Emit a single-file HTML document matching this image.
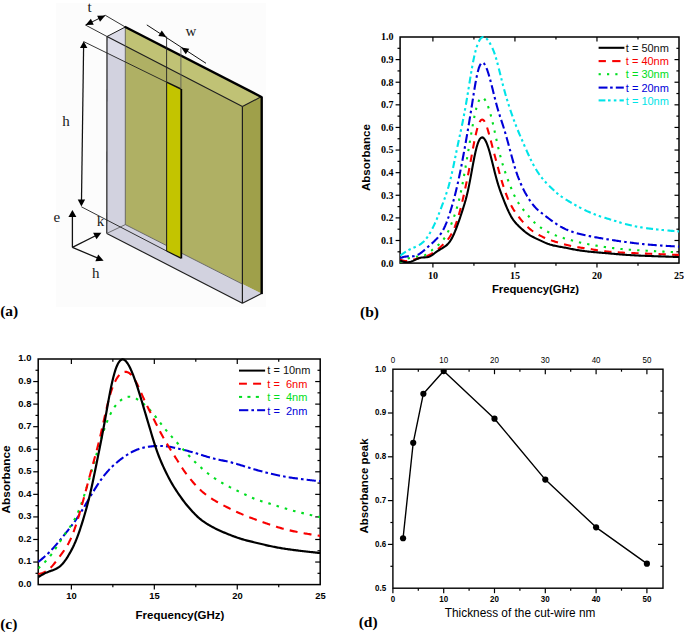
<!DOCTYPE html>
<html><head><meta charset="utf-8"><title>Absorbance figure</title>
<style>html,body{margin:0;padding:0;background:#fff;overflow:hidden}svg{display:block}</style>
</head><body>
<svg width="684" height="633" viewBox="0 0 684 633">
<rect width="684" height="633" fill="#fff"/>
<rect x="56" y="3" width="210" height="304" fill="#fcfcfc"/>
<polygon points="107,36.5 125.3,27 261.5,96.6 261.5,293.6 242.4,303.3 106.8,233.4" fill="#d2d2df" stroke="none" stroke-width="0" />
<polygon points="107,36.5 125.3,27 125.3,45.86" fill="#dcdce8" stroke="none" stroke-width="0" />
<polygon points="107,36.5 125.3,45.97 125.3,62 107,53" fill="#dcdce8" stroke="none" stroke-width="0" />
<polygon points="125.3,27 261.5,96.6 261.5,293.6 125.3,224.6" fill="#afb064" stroke="none" stroke-width="0" />
<polygon points="125.3,27 261.5,96.6 242.4,106.6 125.3,45.86" fill="#c0c275" stroke="none" stroke-width="0" />
<polygon points="242.4,106.6 261.5,96.6 261.5,293.6 242.4,284.09" fill="#9fa04a" stroke="none" stroke-width="0" />
<polygon points="242.4,284.09 261.5,293.6 242.4,303.3" fill="#d2d2df" stroke="none" stroke-width="0" />
<line x1="107" y1="36.5" x2="242.4" y2="106.6" stroke="#1e1e1e" stroke-width="1.15" />
<line x1="107" y1="36.5" x2="106.8" y2="233.4" stroke="#1e1e1e" stroke-width="1.2" />
<line x1="106.8" y1="233.4" x2="242.4" y2="303.3" stroke="#1e1e1e" stroke-width="1.15" />
<line x1="242.4" y1="303.3" x2="261.5" y2="293.6" stroke="#1e1e1e" stroke-width="1.1" />
<line x1="242.4" y1="106.6" x2="242.4" y2="303.3" stroke="#1e1e1e" stroke-width="1.2" />
<line x1="242.4" y1="106.6" x2="261.5" y2="96.6" stroke="#1e1e1e" stroke-width="1.1" />
<line x1="107" y1="36.5" x2="125.3" y2="27" stroke="#1e1e1e" stroke-width="1.0" />
<line x1="125.3" y1="27" x2="125.3" y2="224.6" stroke="#555" stroke-width="0.8" />
<line x1="125.3" y1="224.6" x2="242.4" y2="284.09" stroke="#555" stroke-width="0.8" />
<line x1="106.8" y1="233.4" x2="125.3" y2="224.6" stroke="#555" stroke-width="0.8" />
<line x1="124.8" y1="26.75" x2="261.9" y2="97.2" stroke="#000" stroke-width="2.4" />
<line x1="261.7" y1="96.6" x2="261.7" y2="294.1" stroke="#000" stroke-width="2.4" />
<polygon points="166.6,82.2 180.9,89 180.9,258.2 166.6,251" fill="#c3c400" stroke="none" stroke-width="0" />
<line x1="166.6" y1="82.2" x2="180.9" y2="89" stroke="#111" stroke-width="1.4" />
<line x1="166.6" y1="82.2" x2="166.6" y2="251" stroke="#222" stroke-width="1.1" />
<line x1="181.3" y1="89" x2="181.3" y2="258.5" stroke="#000" stroke-width="1.8" />
<line x1="166.6" y1="251" x2="180.9" y2="258.2" stroke="#111" stroke-width="1.3" />
<line x1="83.7" y1="41.6" x2="166.6" y2="82.2" stroke="#1e1e1e" stroke-width="0.9" />
<line x1="81.4" y1="206.8" x2="166.6" y2="251" stroke="#1e1e1e" stroke-width="0.9" />
<line x1="83.6" y1="47" x2="81.5" y2="200.5" stroke="#111" stroke-width="1.25" />
<polygon points="83.7,41.2 87.36,48.02 79.96,47.98" fill="#000" stroke="none" stroke-width="0" />
<polygon points="81.4,206.4 77.74,199.58 85.14,199.62" fill="#000" stroke="none" stroke-width="0" />
<line x1="85.6" y1="25.1" x2="107" y2="36.5" stroke="#1e1e1e" stroke-width="0.9" />
<line x1="105.3" y1="15.3" x2="125.3" y2="27" stroke="#1e1e1e" stroke-width="0.9" />
<line x1="85.6" y1="25.1" x2="105.3" y2="15.4" stroke="#111" stroke-width="1.0" />
<polygon points="85.6,25.1 90.89,18.87 93.76,24.7" fill="#000" stroke="none" stroke-width="0" />
<polygon points="105.3,15.4 100.01,21.63 97.14,15.8" fill="#000" stroke="none" stroke-width="0" />
<line x1="166.6" y1="36.5" x2="166.6" y2="82.2" stroke="#222" stroke-width="0.9" />
<line x1="180.9" y1="47.5" x2="180.9" y2="89" stroke="#555" stroke-width="0.8" />
<line x1="146.8" y1="24.9" x2="206" y2="63.3" stroke="#111" stroke-width="1.0" />
<polygon points="166.4,37.1 158.32,35.9 161.75,30.38" fill="#000" stroke="none" stroke-width="0" />
<polygon points="181.2,47.6 189.28,48.87 185.8,54.36" fill="#000" stroke="none" stroke-width="0" />
<line x1="72.4" y1="247.4" x2="72.4" y2="215" stroke="#111" stroke-width="1.3" />
<polygon points="72.4,210 76.4,217 68.4,217" fill="#000" stroke="none" stroke-width="0" />
<line x1="72.4" y1="247.4" x2="96.5" y2="235.3" stroke="#111" stroke-width="1.25" />
<polygon points="101.4,232.7 96.47,239.35 93.13,232.75" fill="#000" stroke="none" stroke-width="0" />
<line x1="72.4" y1="247.4" x2="98.5" y2="258.4" stroke="#111" stroke-width="1.25" />
<polygon points="103.6,260.7 95.34,261.2 98.24,254.39" fill="#000" stroke="none" stroke-width="0" />
<text x="89.6" y="11.6" font-family="'Liberation Serif', serif" font-size="15" font-weight="normal" text-anchor="middle" fill="#1a1a1a" >t</text>
<text x="190.8" y="35.6" font-family="'Liberation Serif', serif" font-size="15" font-weight="normal" text-anchor="middle" fill="#1a1a1a" >w</text>
<text x="65.9" y="125.9" font-family="'Liberation Serif', serif" font-size="15" font-weight="normal" text-anchor="middle" fill="#1a1a1a" >h</text>
<text x="56.9" y="221.8" font-family="'Liberation Serif', serif" font-size="15" font-weight="normal" text-anchor="middle" fill="#1a1a1a" >e</text>
<text x="100.4" y="226.3" font-family="'Liberation Serif', serif" font-size="15" font-weight="normal" text-anchor="middle" fill="#1a1a1a" >k</text>
<text x="95.8" y="278.3" font-family="'Liberation Serif', serif" font-size="15" font-weight="normal" text-anchor="middle" fill="#1a1a1a" >h</text>
<text x="0.2" y="315.6" font-family="'Liberation Serif', serif" font-size="15.5" font-weight="bold" text-anchor="start" fill="#000" >(a)</text>
<rect x="400.1" y="37" width="278.9" height="226.1" fill="none" stroke="#000" stroke-width="1.5"/>
<line x1="432.91" y1="263.1" x2="432.91" y2="267.6" stroke="#000" stroke-width="1.2" />
<line x1="432.91" y1="37" x2="432.91" y2="41.5" stroke="#000" stroke-width="1.2" />
<line x1="514.94" y1="263.1" x2="514.94" y2="267.6" stroke="#000" stroke-width="1.2" />
<line x1="514.94" y1="37" x2="514.94" y2="41.5" stroke="#000" stroke-width="1.2" />
<line x1="596.97" y1="263.1" x2="596.97" y2="267.6" stroke="#000" stroke-width="1.2" />
<line x1="596.97" y1="37" x2="596.97" y2="41.5" stroke="#000" stroke-width="1.2" />
<line x1="473.93" y1="263.1" x2="473.93" y2="265.7" stroke="#000" stroke-width="1.2" />
<line x1="473.93" y1="37" x2="473.93" y2="39.6" stroke="#000" stroke-width="1.2" />
<line x1="555.96" y1="263.1" x2="555.96" y2="265.7" stroke="#000" stroke-width="1.2" />
<line x1="555.96" y1="37" x2="555.96" y2="39.6" stroke="#000" stroke-width="1.2" />
<line x1="637.99" y1="263.1" x2="637.99" y2="265.7" stroke="#000" stroke-width="1.2" />
<line x1="637.99" y1="37" x2="637.99" y2="39.6" stroke="#000" stroke-width="1.2" />
<line x1="400.1" y1="240.49" x2="395.6" y2="240.49" stroke="#000" stroke-width="1.2" />
<line x1="679" y1="240.49" x2="674.5" y2="240.49" stroke="#000" stroke-width="1.2" />
<line x1="400.1" y1="217.88" x2="395.6" y2="217.88" stroke="#000" stroke-width="1.2" />
<line x1="679" y1="217.88" x2="674.5" y2="217.88" stroke="#000" stroke-width="1.2" />
<line x1="400.1" y1="195.27" x2="395.6" y2="195.27" stroke="#000" stroke-width="1.2" />
<line x1="679" y1="195.27" x2="674.5" y2="195.27" stroke="#000" stroke-width="1.2" />
<line x1="400.1" y1="172.66" x2="395.6" y2="172.66" stroke="#000" stroke-width="1.2" />
<line x1="679" y1="172.66" x2="674.5" y2="172.66" stroke="#000" stroke-width="1.2" />
<line x1="400.1" y1="150.05" x2="395.6" y2="150.05" stroke="#000" stroke-width="1.2" />
<line x1="679" y1="150.05" x2="674.5" y2="150.05" stroke="#000" stroke-width="1.2" />
<line x1="400.1" y1="127.44" x2="395.6" y2="127.44" stroke="#000" stroke-width="1.2" />
<line x1="679" y1="127.44" x2="674.5" y2="127.44" stroke="#000" stroke-width="1.2" />
<line x1="400.1" y1="104.83" x2="395.6" y2="104.83" stroke="#000" stroke-width="1.2" />
<line x1="679" y1="104.83" x2="674.5" y2="104.83" stroke="#000" stroke-width="1.2" />
<line x1="400.1" y1="82.22" x2="395.6" y2="82.22" stroke="#000" stroke-width="1.2" />
<line x1="679" y1="82.22" x2="674.5" y2="82.22" stroke="#000" stroke-width="1.2" />
<line x1="400.1" y1="59.61" x2="395.6" y2="59.61" stroke="#000" stroke-width="1.2" />
<line x1="679" y1="59.61" x2="674.5" y2="59.61" stroke="#000" stroke-width="1.2" />
<line x1="400.1" y1="251.8" x2="397.5" y2="251.8" stroke="#000" stroke-width="1.2" />
<line x1="679" y1="251.8" x2="676.4" y2="251.8" stroke="#000" stroke-width="1.2" />
<line x1="400.1" y1="229.19" x2="397.5" y2="229.19" stroke="#000" stroke-width="1.2" />
<line x1="679" y1="229.19" x2="676.4" y2="229.19" stroke="#000" stroke-width="1.2" />
<line x1="400.1" y1="206.58" x2="397.5" y2="206.58" stroke="#000" stroke-width="1.2" />
<line x1="679" y1="206.58" x2="676.4" y2="206.58" stroke="#000" stroke-width="1.2" />
<line x1="400.1" y1="183.97" x2="397.5" y2="183.97" stroke="#000" stroke-width="1.2" />
<line x1="679" y1="183.97" x2="676.4" y2="183.97" stroke="#000" stroke-width="1.2" />
<line x1="400.1" y1="161.36" x2="397.5" y2="161.36" stroke="#000" stroke-width="1.2" />
<line x1="679" y1="161.36" x2="676.4" y2="161.36" stroke="#000" stroke-width="1.2" />
<line x1="400.1" y1="138.75" x2="397.5" y2="138.75" stroke="#000" stroke-width="1.2" />
<line x1="679" y1="138.75" x2="676.4" y2="138.75" stroke="#000" stroke-width="1.2" />
<line x1="400.1" y1="116.13" x2="397.5" y2="116.13" stroke="#000" stroke-width="1.2" />
<line x1="679" y1="116.13" x2="676.4" y2="116.13" stroke="#000" stroke-width="1.2" />
<line x1="400.1" y1="93.53" x2="397.5" y2="93.53" stroke="#000" stroke-width="1.2" />
<line x1="679" y1="93.53" x2="676.4" y2="93.53" stroke="#000" stroke-width="1.2" />
<line x1="400.1" y1="70.92" x2="397.5" y2="70.92" stroke="#000" stroke-width="1.2" />
<line x1="679" y1="70.92" x2="676.4" y2="70.92" stroke="#000" stroke-width="1.2" />
<line x1="400.1" y1="48.31" x2="397.5" y2="48.31" stroke="#000" stroke-width="1.2" />
<line x1="679" y1="48.31" x2="676.4" y2="48.31" stroke="#000" stroke-width="1.2" />
<clipPath id="cb"><rect x="400.1" y="34.0" width="278.9" height="229.10000000000002"/></clipPath>
<path d="M400.1,255.6 L401.18,254.84 L402.25,254.09 L403.33,253.35 L404.41,252.63 L405.48,251.93 L406.56,251.25 L407.64,250.61 L408.71,250 L409.79,249.44 L410.87,248.92 L411.95,248.44 L413.02,247.97 L414.1,247.51 L415.18,247.05 L416.25,246.56 L417.33,246.03 L418.41,245.46 L419.48,244.82 L420.56,244.11 L421.64,243.32 L422.71,242.42 L423.79,241.41 L424.87,240.27 L425.94,239.01 L427.02,237.61 L428.1,236.06 L429.17,234.37 L430.25,232.54 L431.33,230.6 L432.41,228.55 L433.48,226.4 L434.56,224.14 L435.64,221.78 L436.71,219.29 L437.79,216.68 L438.87,213.96 L439.94,211.16 L441.02,208.31 L442.1,205.44 L443.17,202.53 L444.25,199.56 L445.33,196.52 L446.4,193.37 L447.48,190.04 L448.56,186.46 L449.63,182.55 L450.71,178.28 L451.79,173.68 L452.86,168.8 L453.94,163.69 L455.02,158.45 L456.1,153.17 L457.17,147.94 L458.25,142.8 L459.33,137.78 L460.4,132.76 L461.48,127.67 L462.56,122.42 L463.63,116.98 L464.71,111.29 L465.79,105.3 L466.86,99.02 L467.94,92.51 L469.02,85.87 L470.09,79.18 L471.17,72.61 L472.25,66.37 L473.32,60.67 L474.4,55.61 L475.48,51.19 L476.56,47.4 L477.63,44.23 L478.71,41.67 L479.79,39.7 L480.86,38.3 L481.94,37.43 L483.02,37.04 L484.09,37.09 L485.17,37.55 L486.25,38.37 L487.32,39.51 L488.4,40.91 L489.48,42.54 L490.55,44.37 L491.63,46.44 L492.71,48.79 L493.78,51.46 L494.86,54.47 L495.94,57.86 L497.02,61.62 L498.09,65.66 L499.17,69.9 L500.25,74.24 L501.32,78.62 L502.4,82.93 L503.48,87.1 L504.55,91.09 L505.63,94.92 L506.71,98.59 L507.78,102.12 L508.86,105.52 L509.94,108.81 L511.01,112 L512.09,115.1 L513.17,118.11 L514.24,121.04 L515.32,123.89 L516.4,126.66 L517.47,129.36 L518.55,131.98 L519.63,134.54 L520.71,137.05 L521.78,139.53 L522.86,142 L523.94,144.47 L525.01,146.95 L526.09,149.41 L527.17,151.84 L528.24,154.24 L529.32,156.58 L530.4,158.86 L531.47,161.06 L532.55,163.17 L533.63,165.2 L534.7,167.14 L535.78,169 L536.86,170.76 L537.93,172.43 L539.01,174.01 L540.09,175.51 L541.17,176.94 L542.24,178.3 L543.32,179.6 L544.4,180.84 L545.47,182.03 L546.55,183.19 L547.63,184.31 L548.7,185.4 L549.78,186.46 L550.86,187.52 L551.93,188.56 L553.01,189.59 L554.09,190.59 L555.16,191.58 L556.24,192.53 L557.32,193.44 L558.39,194.32 L559.47,195.16 L560.55,195.96 L561.63,196.73 L562.7,197.46 L563.78,198.17 L564.86,198.87 L565.93,199.54 L567.01,200.2 L568.09,200.85 L569.16,201.5 L570.24,202.14 L571.32,202.77 L572.39,203.4 L573.47,204.03 L574.55,204.64 L575.62,205.25 L576.7,205.85 L577.78,206.44 L578.85,207.03 L579.93,207.6 L581.01,208.16 L582.08,208.72 L583.16,209.26 L584.24,209.8 L585.32,210.32 L586.39,210.83 L587.47,211.33 L588.55,211.82 L589.62,212.3 L590.7,212.77 L591.78,213.22 L592.85,213.67 L593.93,214.1 L595.01,214.52 L596.08,214.92 L597.16,215.32 L598.24,215.7 L599.31,216.07 L600.39,216.43 L601.47,216.78 L602.54,217.13 L603.62,217.46 L604.7,217.79 L605.78,218.12 L606.85,218.44 L607.93,218.77 L609.01,219.09 L610.08,219.42 L611.16,219.75 L612.24,220.08 L613.31,220.41 L614.39,220.75 L615.47,221.08 L616.54,221.41 L617.62,221.73 L618.7,222.06 L619.77,222.38 L620.85,222.7 L621.93,223.01 L623,223.32 L624.08,223.63 L625.16,223.92 L626.24,224.21 L627.31,224.49 L628.39,224.77 L629.47,225.03 L630.54,225.29 L631.62,225.53 L632.7,225.77 L633.77,226 L634.85,226.22 L635.93,226.43 L637,226.64 L638.08,226.83 L639.16,227.03 L640.23,227.21 L641.31,227.39 L642.39,227.56 L643.46,227.73 L644.54,227.89 L645.62,228.04 L646.69,228.2 L647.77,228.35 L648.85,228.49 L649.93,228.63 L651,228.77 L652.08,228.9 L653.16,229.03 L654.23,229.16 L655.31,229.28 L656.39,229.4 L657.46,229.51 L658.54,229.63 L659.62,229.74 L660.69,229.85 L661.77,229.95 L662.85,230.06 L663.92,230.16 L665,230.26 L666.08,230.36 L667.15,230.46 L668.23,230.55 L669.31,230.64 L670.39,230.74 L671.46,230.83 L672.54,230.92 L673.62,231.01 L674.69,231.1 L675.77,231.18 L676.85,231.27 L677.92,231.36 L679,231.45" fill="none" stroke="#00e4e8" stroke-width="2.1" stroke-dasharray="7 3 2.5 3 2.5 3.5" stroke-linejoin="round" clip-path="url(#cb)"/>
<path d="M400.1,258.04 L401.18,257.71 L402.25,257.38 L403.33,257.09 L404.41,256.82 L405.48,256.61 L406.56,256.46 L407.64,256.38 L408.71,256.37 L409.79,256.38 L410.87,256.4 L411.95,256.39 L413.02,256.3 L414.1,256.13 L415.18,255.85 L416.25,255.48 L417.33,255.02 L418.41,254.48 L419.48,253.85 L420.56,253.14 L421.64,252.37 L422.71,251.53 L423.79,250.65 L424.87,249.73 L425.94,248.78 L427.02,247.82 L428.1,246.84 L429.17,245.85 L430.25,244.87 L431.33,243.9 L432.41,242.92 L433.48,241.93 L434.56,240.92 L435.64,239.87 L436.71,238.78 L437.79,237.62 L438.87,236.37 L439.94,235 L441.02,233.48 L442.1,231.8 L443.17,229.91 L444.25,227.8 L445.33,225.45 L446.4,222.87 L447.48,220.05 L448.56,217 L449.63,213.74 L450.71,210.3 L451.79,206.72 L452.86,203.01 L453.94,199.11 L455.02,194.96 L456.1,190.55 L457.17,185.93 L458.25,181.1 L459.33,176.08 L460.4,170.87 L461.48,165.46 L462.56,159.81 L463.63,153.99 L464.71,148.07 L465.79,142.04 L466.86,135.85 L467.94,129.52 L469.02,123.09 L470.09,116.57 L471.17,109.91 L472.25,103.08 L473.32,96.15 L474.4,89.38 L475.48,83.03 L476.56,77.33 L477.63,72.44 L478.71,68.48 L479.79,65.55 L480.86,63.63 L481.94,62.7 L483.02,62.7 L484.09,63.55 L485.17,65.15 L486.25,67.4 L487.32,70.21 L488.4,73.49 L489.48,77.15 L490.55,81.11 L491.63,85.27 L492.71,89.56 L493.78,93.88 L494.86,98.18 L495.94,102.37 L497.02,106.4 L498.09,110.18 L499.17,113.73 L500.25,117.11 L501.32,120.41 L502.4,123.68 L503.48,127.02 L504.55,130.49 L505.63,134.14 L506.71,137.93 L507.78,141.83 L508.86,145.8 L509.94,149.81 L511.01,153.82 L512.09,157.77 L513.17,161.64 L514.24,165.36 L515.32,168.9 L516.4,172.22 L517.47,175.31 L518.55,178.21 L519.63,180.92 L520.71,183.48 L521.78,185.89 L522.86,188.18 L523.94,190.35 L525.01,192.41 L526.09,194.36 L527.17,196.23 L528.24,198 L529.32,199.68 L530.4,201.27 L531.47,202.78 L532.55,204.2 L533.63,205.52 L534.7,206.76 L535.78,207.9 L536.86,208.97 L537.93,209.97 L539.01,210.92 L540.09,211.82 L541.17,212.69 L542.24,213.54 L543.32,214.37 L544.4,215.21 L545.47,216.03 L546.55,216.86 L547.63,217.67 L548.7,218.48 L549.78,219.28 L550.86,220.07 L551.93,220.85 L553.01,221.62 L554.09,222.38 L555.16,223.12 L556.24,223.85 L557.32,224.56 L558.39,225.25 L559.47,225.91 L560.55,226.56 L561.63,227.17 L562.7,227.76 L563.78,228.31 L564.86,228.84 L565.93,229.34 L567.01,229.81 L568.09,230.26 L569.16,230.69 L570.24,231.1 L571.32,231.48 L572.39,231.85 L573.47,232.2 L574.55,232.53 L575.62,232.85 L576.7,233.15 L577.78,233.45 L578.85,233.73 L579.93,234 L581.01,234.26 L582.08,234.51 L583.16,234.76 L584.24,235.01 L585.32,235.25 L586.39,235.48 L587.47,235.71 L588.55,235.93 L589.62,236.15 L590.7,236.37 L591.78,236.58 L592.85,236.79 L593.93,236.99 L595.01,237.19 L596.08,237.39 L597.16,237.58 L598.24,237.78 L599.31,237.97 L600.39,238.15 L601.47,238.34 L602.54,238.52 L603.62,238.7 L604.7,238.88 L605.78,239.05 L606.85,239.23 L607.93,239.4 L609.01,239.57 L610.08,239.74 L611.16,239.91 L612.24,240.07 L613.31,240.24 L614.39,240.4 L615.47,240.56 L616.54,240.72 L617.62,240.88 L618.7,241.03 L619.77,241.19 L620.85,241.34 L621.93,241.49 L623,241.64 L624.08,241.79 L625.16,241.93 L626.24,242.08 L627.31,242.22 L628.39,242.36 L629.47,242.5 L630.54,242.64 L631.62,242.77 L632.7,242.91 L633.77,243.04 L634.85,243.17 L635.93,243.29 L637,243.42 L638.08,243.54 L639.16,243.66 L640.23,243.78 L641.31,243.89 L642.39,244 L643.46,244.11 L644.54,244.22 L645.62,244.33 L646.69,244.43 L647.77,244.53 L648.85,244.62 L649.93,244.71 L651,244.81 L652.08,244.89 L653.16,244.98 L654.23,245.06 L655.31,245.15 L656.39,245.23 L657.46,245.3 L658.54,245.38 L659.62,245.45 L660.69,245.53 L661.77,245.6 L662.85,245.67 L663.92,245.73 L665,245.8 L666.08,245.87 L667.15,245.93 L668.23,246 L669.31,246.06 L670.39,246.12 L671.46,246.18 L672.54,246.24 L673.62,246.3 L674.69,246.36 L675.77,246.42 L676.85,246.48 L677.92,246.54 L679,246.6" fill="none" stroke="#0000d8" stroke-width="2.1" stroke-dasharray="9 3.2 2.5 3.3" stroke-linejoin="round" clip-path="url(#cb)"/>
<path d="M400.1,262.15 L401.18,261.59 L402.25,261.04 L403.33,260.5 L404.41,259.99 L405.48,259.49 L406.56,259.03 L407.64,258.61 L408.71,258.24 L409.79,257.92 L410.87,257.64 L411.95,257.41 L413.02,257.21 L414.1,257.04 L415.18,256.89 L416.25,256.76 L417.33,256.65 L418.41,256.54 L419.48,256.42 L420.56,256.28 L421.64,256.1 L422.71,255.87 L423.79,255.56 L424.87,255.17 L425.94,254.67 L427.02,254.06 L428.1,253.33 L429.17,252.52 L430.25,251.64 L431.33,250.72 L432.41,249.78 L433.48,248.85 L434.56,247.94 L435.64,247.07 L436.71,246.23 L437.79,245.37 L438.87,244.47 L439.94,243.51 L441.02,242.45 L442.1,241.28 L443.17,239.96 L444.25,238.48 L445.33,236.82 L446.4,234.97 L447.48,232.91 L448.56,230.63 L449.63,228.16 L450.71,225.56 L451.79,222.85 L452.86,220.02 L453.94,217.06 L455.02,213.92 L456.1,210.58 L457.17,206.98 L458.25,203.08 L459.33,198.83 L460.4,194.2 L461.48,189.17 L462.56,183.75 L463.63,177.96 L464.71,171.88 L465.79,165.67 L466.86,159.41 L467.94,153.1 L469.02,146.74 L470.09,140.34 L471.17,134.01 L472.25,127.85 L473.32,121.98 L474.4,116.49 L475.48,111.52 L476.56,107.24 L477.63,103.75 L478.71,101.07 L479.79,99.17 L480.86,98 L481.94,97.55 L483.02,97.79 L484.09,98.65 L485.17,100.1 L486.25,102.07 L487.32,104.51 L488.4,107.38 L489.48,110.64 L490.55,114.32 L491.63,118.42 L492.71,122.85 L493.78,127.53 L494.86,132.38 L495.94,137.3 L497.02,142.19 L498.09,146.92 L499.17,151.42 L500.25,155.67 L501.32,159.68 L502.4,163.46 L503.48,167.01 L504.55,170.36 L505.63,173.53 L506.71,176.56 L507.78,179.47 L508.86,182.3 L509.94,185.06 L511.01,187.76 L512.09,190.38 L513.17,192.87 L514.24,195.24 L515.32,197.45 L516.4,199.49 L517.47,201.37 L518.55,203.11 L519.63,204.74 L520.71,206.28 L521.78,207.74 L522.86,209.16 L523.94,210.52 L525.01,211.86 L526.09,213.16 L527.17,214.44 L528.24,215.7 L529.32,216.95 L530.4,218.17 L531.47,219.37 L532.55,220.54 L533.63,221.66 L534.7,222.73 L535.78,223.75 L536.86,224.7 L537.93,225.59 L539.01,226.43 L540.09,227.22 L541.17,227.96 L542.24,228.67 L543.32,229.34 L544.4,229.98 L545.47,230.6 L546.55,231.19 L547.63,231.76 L548.7,232.31 L549.78,232.83 L550.86,233.34 L551.93,233.83 L553.01,234.3 L554.09,234.76 L555.16,235.2 L556.24,235.62 L557.32,236.02 L558.39,236.42 L559.47,236.79 L560.55,237.15 L561.63,237.49 L562.7,237.82 L563.78,238.14 L564.86,238.45 L565.93,238.75 L567.01,239.05 L568.09,239.34 L569.16,239.64 L570.24,239.95 L571.32,240.25 L572.39,240.56 L573.47,240.87 L574.55,241.18 L575.62,241.48 L576.7,241.76 L577.78,242.04 L578.85,242.3 L579.93,242.55 L581.01,242.79 L582.08,243.01 L583.16,243.23 L584.24,243.44 L585.32,243.65 L586.39,243.85 L587.47,244.05 L588.55,244.25 L589.62,244.45 L590.7,244.65 L591.78,244.84 L592.85,245.04 L593.93,245.23 L595.01,245.42 L596.08,245.61 L597.16,245.79 L598.24,245.97 L599.31,246.15 L600.39,246.33 L601.47,246.5 L602.54,246.67 L603.62,246.83 L604.7,246.99 L605.78,247.15 L606.85,247.31 L607.93,247.46 L609.01,247.6 L610.08,247.75 L611.16,247.88 L612.24,248.02 L613.31,248.15 L614.39,248.28 L615.47,248.4 L616.54,248.52 L617.62,248.64 L618.7,248.75 L619.77,248.86 L620.85,248.97 L621.93,249.07 L623,249.17 L624.08,249.27 L625.16,249.36 L626.24,249.45 L627.31,249.53 L628.39,249.62 L629.47,249.69 L630.54,249.77 L631.62,249.85 L632.7,249.92 L633.77,249.99 L634.85,250.05 L635.93,250.12 L637,250.18 L638.08,250.25 L639.16,250.31 L640.23,250.37 L641.31,250.43 L642.39,250.49 L643.46,250.55 L644.54,250.6 L645.62,250.66 L646.69,250.72 L647.77,250.78 L648.85,250.84 L649.93,250.89 L651,250.95 L652.08,251.01 L653.16,251.07 L654.23,251.13 L655.31,251.18 L656.39,251.24 L657.46,251.3 L658.54,251.36 L659.62,251.42 L660.69,251.48 L661.77,251.54 L662.85,251.59 L663.92,251.65 L665,251.71 L666.08,251.77 L667.15,251.83 L668.23,251.89 L669.31,251.95 L670.39,252 L671.46,252.06 L672.54,252.12 L673.62,252.18 L674.69,252.24 L675.77,252.3 L676.85,252.36 L677.92,252.41 L679,252.47" fill="none" stroke="#00de20" stroke-width="2.1" stroke-dasharray="2.3 6.1" stroke-linejoin="round" clip-path="url(#cb)"/>
<path d="M400.1,259.6 L401.18,259.94 L402.25,260.26 L403.33,260.54 L404.41,260.77 L405.48,260.94 L406.56,261.02 L407.64,261.02 L408.71,260.95 L409.79,260.81 L410.87,260.59 L411.95,260.31 L413.02,259.98 L414.1,259.62 L415.18,259.26 L416.25,258.93 L417.33,258.62 L418.41,258.35 L419.48,258.09 L420.56,257.84 L421.64,257.59 L422.71,257.33 L423.79,257.05 L424.87,256.74 L425.94,256.39 L427.02,256 L428.1,255.55 L429.17,255.04 L430.25,254.47 L431.33,253.85 L432.41,253.18 L433.48,252.47 L434.56,251.73 L435.64,250.95 L436.71,250.14 L437.79,249.3 L438.87,248.42 L439.94,247.5 L441.02,246.55 L442.1,245.56 L443.17,244.54 L444.25,243.48 L445.33,242.38 L446.4,241.2 L447.48,239.93 L448.56,238.54 L449.63,237.01 L450.71,235.31 L451.79,233.41 L452.86,231.3 L453.94,228.95 L455.02,226.32 L456.1,223.43 L457.17,220.26 L458.25,216.82 L459.33,213.11 L460.4,209.15 L461.48,204.93 L462.56,200.46 L463.63,195.74 L464.71,190.82 L465.79,185.78 L466.86,180.66 L467.94,175.41 L469.02,169.94 L470.09,164.24 L471.17,158.37 L472.25,152.44 L473.32,146.59 L474.4,140.99 L475.48,135.8 L476.56,131.16 L477.63,127.23 L478.71,124.08 L479.79,121.74 L480.86,120.23 L481.94,119.55 L483.02,119.73 L484.09,120.73 L485.17,122.52 L486.25,125.05 L487.32,128.22 L488.4,131.84 L489.48,135.71 L490.55,139.74 L491.63,143.84 L492.71,147.95 L493.78,152.02 L494.86,156.06 L495.94,160.07 L497.02,164.06 L498.09,168.02 L499.17,171.92 L500.25,175.75 L501.32,179.48 L502.4,183.08 L503.48,186.52 L504.55,189.79 L505.63,192.85 L506.71,195.69 L507.78,198.33 L508.86,200.79 L509.94,203.07 L511.01,205.18 L512.09,207.15 L513.17,208.99 L514.24,210.7 L515.32,212.31 L516.4,213.84 L517.47,215.28 L518.55,216.67 L519.63,218 L520.71,219.31 L521.78,220.59 L522.86,221.83 L523.94,223.04 L525.01,224.22 L526.09,225.35 L527.17,226.43 L528.24,227.46 L529.32,228.44 L530.4,229.36 L531.47,230.22 L532.55,231.03 L533.63,231.78 L534.7,232.49 L535.78,233.17 L536.86,233.82 L537.93,234.44 L539.01,235.04 L540.09,235.61 L541.17,236.16 L542.24,236.68 L543.32,237.19 L544.4,237.67 L545.47,238.14 L546.55,238.59 L547.63,239.02 L548.7,239.44 L549.78,239.85 L550.86,240.24 L551.93,240.62 L553.01,240.99 L554.09,241.35 L555.16,241.69 L556.24,242.03 L557.32,242.36 L558.39,242.68 L559.47,242.99 L560.55,243.3 L561.63,243.6 L562.7,243.89 L563.78,244.18 L564.86,244.46 L565.93,244.73 L567.01,245 L568.09,245.26 L569.16,245.51 L570.24,245.75 L571.32,245.98 L572.39,246.21 L573.47,246.42 L574.55,246.62 L575.62,246.82 L576.7,247.01 L577.78,247.18 L578.85,247.36 L579.93,247.52 L581.01,247.69 L582.08,247.85 L583.16,248.01 L584.24,248.16 L585.32,248.32 L586.39,248.48 L587.47,248.65 L588.55,248.81 L589.62,248.98 L590.7,249.15 L591.78,249.33 L592.85,249.5 L593.93,249.68 L595.01,249.85 L596.08,250.02 L597.16,250.19 L598.24,250.36 L599.31,250.52 L600.39,250.68 L601.47,250.83 L602.54,250.98 L603.62,251.12 L604.7,251.25 L605.78,251.37 L606.85,251.49 L607.93,251.6 L609.01,251.7 L610.08,251.8 L611.16,251.89 L612.24,251.98 L613.31,252.06 L614.39,252.14 L615.47,252.21 L616.54,252.28 L617.62,252.34 L618.7,252.4 L619.77,252.46 L620.85,252.52 L621.93,252.58 L623,252.63 L624.08,252.68 L625.16,252.73 L626.24,252.78 L627.31,252.83 L628.39,252.88 L629.47,252.93 L630.54,252.97 L631.62,253.02 L632.7,253.07 L633.77,253.11 L634.85,253.16 L635.93,253.21 L637,253.25 L638.08,253.29 L639.16,253.34 L640.23,253.38 L641.31,253.43 L642.39,253.47 L643.46,253.51 L644.54,253.56 L645.62,253.6 L646.69,253.64 L647.77,253.69 L648.85,253.73 L649.93,253.78 L651,253.82 L652.08,253.86 L653.16,253.91 L654.23,253.95 L655.31,253.99 L656.39,254.04 L657.46,254.08 L658.54,254.13 L659.62,254.17 L660.69,254.21 L661.77,254.26 L662.85,254.3 L663.92,254.34 L665,254.39 L666.08,254.43 L667.15,254.48 L668.23,254.52 L669.31,254.56 L670.39,254.61 L671.46,254.65 L672.54,254.7 L673.62,254.74 L674.69,254.78 L675.77,254.83 L676.85,254.87 L677.92,254.92 L679,254.96" fill="none" stroke="#f80000" stroke-width="2.1" stroke-dasharray="7.3 6.3" stroke-linejoin="round" clip-path="url(#cb)"/>
<path d="M400.1,260.52 L401.18,260.91 L402.25,261.28 L403.33,261.61 L404.41,261.89 L405.48,262.09 L406.56,262.2 L407.64,262.22 L408.71,262.14 L409.79,261.97 L410.87,261.71 L411.95,261.35 L413.02,260.9 L414.1,260.4 L415.18,259.88 L416.25,259.36 L417.33,258.87 L418.41,258.42 L419.48,258.04 L420.56,257.75 L421.64,257.56 L422.71,257.46 L423.79,257.41 L424.87,257.37 L425.94,257.31 L427.02,257.18 L428.1,256.97 L429.17,256.64 L430.25,256.17 L431.33,255.56 L432.41,254.84 L433.48,254.06 L434.56,253.25 L435.64,252.45 L436.71,251.69 L437.79,250.95 L438.87,250.25 L439.94,249.59 L441.02,248.95 L442.1,248.32 L443.17,247.68 L444.25,246.99 L445.33,246.23 L446.4,245.37 L447.48,244.37 L448.56,243.21 L449.63,241.85 L450.71,240.25 L451.79,238.4 L452.86,236.3 L453.94,233.98 L455.02,231.45 L456.1,228.75 L457.17,225.9 L458.25,222.93 L459.33,219.87 L460.4,216.72 L461.48,213.5 L462.56,210.2 L463.63,206.8 L464.71,203.27 L465.79,199.47 L466.86,195.31 L467.94,190.68 L469.02,185.6 L470.09,180.13 L471.17,174.32 L472.25,168.37 L473.32,162.48 L474.4,156.93 L475.48,151.91 L476.56,147.55 L477.63,143.95 L478.71,141.13 L479.79,139.11 L480.86,137.87 L481.94,137.39 L483.02,137.61 L484.09,138.51 L485.17,140.04 L486.25,142.16 L487.32,144.83 L488.4,147.97 L489.48,151.55 L490.55,155.48 L491.63,159.67 L492.71,164 L493.78,168.36 L494.86,172.66 L495.94,176.82 L497.02,180.75 L498.09,184.4 L499.17,187.77 L500.25,190.92 L501.32,193.88 L502.4,196.71 L503.48,199.45 L504.55,202.12 L505.63,204.75 L506.71,207.33 L507.78,209.81 L508.86,212.16 L509.94,214.35 L511.01,216.36 L512.09,218.17 L513.17,219.77 L514.24,221.2 L515.32,222.5 L516.4,223.71 L517.47,224.85 L518.55,225.93 L519.63,226.97 L520.71,227.98 L521.78,228.95 L522.86,229.9 L523.94,230.83 L525.01,231.73 L526.09,232.59 L527.17,233.41 L528.24,234.18 L529.32,234.9 L530.4,235.56 L531.47,236.18 L532.55,236.76 L533.63,237.31 L534.7,237.84 L535.78,238.36 L536.86,238.87 L537.93,239.38 L539.01,239.89 L540.09,240.4 L541.17,240.9 L542.24,241.41 L543.32,241.9 L544.4,242.39 L545.47,242.85 L546.55,243.3 L547.63,243.72 L548.7,244.1 L549.78,244.46 L550.86,244.78 L551.93,245.08 L553.01,245.36 L554.09,245.61 L555.16,245.85 L556.24,246.07 L557.32,246.28 L558.39,246.49 L559.47,246.68 L560.55,246.87 L561.63,247.06 L562.7,247.25 L563.78,247.44 L564.86,247.64 L565.93,247.84 L567.01,248.05 L568.09,248.27 L569.16,248.49 L570.24,248.71 L571.32,248.93 L572.39,249.14 L573.47,249.35 L574.55,249.56 L575.62,249.75 L576.7,249.94 L577.78,250.12 L578.85,250.29 L579.93,250.45 L581.01,250.61 L582.08,250.77 L583.16,250.91 L584.24,251.06 L585.32,251.2 L586.39,251.33 L587.47,251.46 L588.55,251.59 L589.62,251.71 L590.7,251.82 L591.78,251.93 L592.85,252.03 L593.93,252.13 L595.01,252.23 L596.08,252.32 L597.16,252.41 L598.24,252.5 L599.31,252.59 L600.39,252.67 L601.47,252.76 L602.54,252.85 L603.62,252.94 L604.7,253.03 L605.78,253.12 L606.85,253.22 L607.93,253.31 L609.01,253.41 L610.08,253.5 L611.16,253.6 L612.24,253.7 L613.31,253.79 L614.39,253.89 L615.47,253.99 L616.54,254.08 L617.62,254.17 L618.7,254.27 L619.77,254.36 L620.85,254.45 L621.93,254.53 L623,254.62 L624.08,254.7 L625.16,254.78 L626.24,254.85 L627.31,254.93 L628.39,255 L629.47,255.07 L630.54,255.13 L631.62,255.19 L632.7,255.26 L633.77,255.32 L634.85,255.37 L635.93,255.43 L637,255.48 L638.08,255.53 L639.16,255.58 L640.23,255.63 L641.31,255.68 L642.39,255.73 L643.46,255.77 L644.54,255.82 L645.62,255.86 L646.69,255.91 L647.77,255.95 L648.85,255.99 L649.93,256.03 L651,256.07 L652.08,256.11 L653.16,256.15 L654.23,256.19 L655.31,256.23 L656.39,256.27 L657.46,256.31 L658.54,256.34 L659.62,256.38 L660.69,256.42 L661.77,256.45 L662.85,256.49 L663.92,256.52 L665,256.56 L666.08,256.59 L667.15,256.63 L668.23,256.66 L669.31,256.7 L670.39,256.73 L671.46,256.76 L672.54,256.8 L673.62,256.83 L674.69,256.86 L675.77,256.9 L676.85,256.93 L677.92,256.96 L679,257" fill="none" stroke="#000" stroke-width="2.1" stroke-linejoin="round" clip-path="url(#cb)"/>
<text x="393.5" y="266.5" font-family="'Liberation Serif', serif" font-size="10" font-weight="bold" text-anchor="end" fill="#000" >0.0</text>
<text x="393.5" y="243.89" font-family="'Liberation Serif', serif" font-size="10" font-weight="bold" text-anchor="end" fill="#000" >0.1</text>
<text x="393.5" y="221.28" font-family="'Liberation Serif', serif" font-size="10" font-weight="bold" text-anchor="end" fill="#000" >0.2</text>
<text x="393.5" y="198.67" font-family="'Liberation Serif', serif" font-size="10" font-weight="bold" text-anchor="end" fill="#000" >0.3</text>
<text x="393.5" y="176.06" font-family="'Liberation Serif', serif" font-size="10" font-weight="bold" text-anchor="end" fill="#000" >0.4</text>
<text x="393.5" y="153.45" font-family="'Liberation Serif', serif" font-size="10" font-weight="bold" text-anchor="end" fill="#000" >0.5</text>
<text x="393.5" y="130.84" font-family="'Liberation Serif', serif" font-size="10" font-weight="bold" text-anchor="end" fill="#000" >0.6</text>
<text x="393.5" y="108.23" font-family="'Liberation Serif', serif" font-size="10" font-weight="bold" text-anchor="end" fill="#000" >0.7</text>
<text x="393.5" y="85.62" font-family="'Liberation Serif', serif" font-size="10" font-weight="bold" text-anchor="end" fill="#000" >0.8</text>
<text x="393.5" y="63.01" font-family="'Liberation Serif', serif" font-size="10" font-weight="bold" text-anchor="end" fill="#000" >0.9</text>
<text x="393.5" y="40.4" font-family="'Liberation Serif', serif" font-size="10" font-weight="bold" text-anchor="end" fill="#000" >1.0</text>
<text x="432.91" y="279.3" font-family="'Liberation Serif', serif" font-size="10" font-weight="bold" text-anchor="middle" fill="#000" >10</text>
<text x="514.94" y="279.3" font-family="'Liberation Serif', serif" font-size="10" font-weight="bold" text-anchor="middle" fill="#000" >15</text>
<text x="596.97" y="279.3" font-family="'Liberation Serif', serif" font-size="10" font-weight="bold" text-anchor="middle" fill="#000" >20</text>
<text x="679" y="279.3" font-family="'Liberation Serif', serif" font-size="10" font-weight="bold" text-anchor="middle" fill="#000" >25</text>
<text x="535.5" y="293.4" font-family="'Liberation Sans', sans-serif" font-size="11.3" font-weight="bold" text-anchor="middle" fill="#000" >Frequency(GHz)</text>
<text x="370" y="157.6" font-family="'Liberation Sans', sans-serif" font-size="11.6" font-weight="bold" text-anchor="middle" fill="#000" transform="rotate(-90 370.0 157.6)">Absorbance</text>
<text x="360" y="317" font-family="'Liberation Serif', serif" font-size="15.5" font-weight="bold" text-anchor="start" fill="#000" >(b)</text>
<line x1="598.6" y1="47.8" x2="624.4" y2="47.8" stroke="#000" stroke-width="2.1" />
<line x1="598.6" y1="61.1" x2="605.9" y2="61.1" stroke="#f80000" stroke-width="2.1" />
<line x1="612.2" y1="61.1" x2="620.5" y2="61.1" stroke="#f80000" stroke-width="2.1" />
<line x1="598.6" y1="74.2" x2="600.8" y2="74.2" stroke="#00de20" stroke-width="2.1" />
<line x1="607" y1="74.2" x2="609.2" y2="74.2" stroke="#00de20" stroke-width="2.1" />
<line x1="615.3" y1="74.2" x2="617.5" y2="74.2" stroke="#00de20" stroke-width="2.1" />
<line x1="598.6" y1="87.6" x2="607.5" y2="87.6" stroke="#0000d8" stroke-width="2.1" />
<line x1="610.1" y1="87.6" x2="612.7" y2="87.6" stroke="#0000d8" stroke-width="2.1" />
<line x1="615.8" y1="87.6" x2="623.8" y2="87.6" stroke="#0000d8" stroke-width="2.1" />
<line x1="598.6" y1="100.4" x2="605.4" y2="100.4" stroke="#00e4e8" stroke-width="2.1" />
<line x1="608" y1="100.4" x2="610.6" y2="100.4" stroke="#00e4e8" stroke-width="2.1" />
<line x1="613.8" y1="100.4" x2="616.4" y2="100.4" stroke="#00e4e8" stroke-width="2.1" />
<line x1="619.5" y1="100.4" x2="623.8" y2="100.4" stroke="#00e4e8" stroke-width="2.1" />
<text x="625.8" y="52.1" font-family="'Liberation Sans', sans-serif" font-size="11" font-weight="normal" text-anchor="start" fill="#111" >t = 50nm</text>
<text x="625.8" y="65.4" font-family="'Liberation Sans', sans-serif" font-size="11" font-weight="normal" text-anchor="start" fill="#f80000" >t = 40nm</text>
<text x="625.8" y="78.4" font-family="'Liberation Sans', sans-serif" font-size="11" font-weight="normal" text-anchor="start" fill="#00de20" >t = 30nm</text>
<text x="625.8" y="91.7" font-family="'Liberation Sans', sans-serif" font-size="11" font-weight="normal" text-anchor="start" fill="#0000d8" >t = 20nm</text>
<text x="625.8" y="104.6" font-family="'Liberation Sans', sans-serif" font-size="11" font-weight="normal" text-anchor="start" fill="#00e4e8" >t = 10nm</text>
<rect x="38.2" y="359" width="282" height="225.6" fill="none" stroke="#000" stroke-width="1.5"/>
<line x1="71.38" y1="584.6" x2="71.38" y2="589.6" stroke="#000" stroke-width="1.2" />
<line x1="71.38" y1="359" x2="71.38" y2="364" stroke="#000" stroke-width="1.2" />
<line x1="154.32" y1="584.6" x2="154.32" y2="589.6" stroke="#000" stroke-width="1.2" />
<line x1="154.32" y1="359" x2="154.32" y2="364" stroke="#000" stroke-width="1.2" />
<line x1="237.26" y1="584.6" x2="237.26" y2="589.6" stroke="#000" stroke-width="1.2" />
<line x1="237.26" y1="359" x2="237.26" y2="364" stroke="#000" stroke-width="1.2" />
<line x1="112.85" y1="584.6" x2="112.85" y2="587.3" stroke="#000" stroke-width="1.2" />
<line x1="112.85" y1="359" x2="112.85" y2="361.7" stroke="#000" stroke-width="1.2" />
<line x1="195.79" y1="584.6" x2="195.79" y2="587.3" stroke="#000" stroke-width="1.2" />
<line x1="195.79" y1="359" x2="195.79" y2="361.7" stroke="#000" stroke-width="1.2" />
<line x1="278.73" y1="584.6" x2="278.73" y2="587.3" stroke="#000" stroke-width="1.2" />
<line x1="278.73" y1="359" x2="278.73" y2="361.7" stroke="#000" stroke-width="1.2" />
<line x1="38.2" y1="562.04" x2="33.2" y2="562.04" stroke="#000" stroke-width="1.2" />
<line x1="320.2" y1="562.04" x2="315.2" y2="562.04" stroke="#000" stroke-width="1.2" />
<line x1="38.2" y1="539.48" x2="33.2" y2="539.48" stroke="#000" stroke-width="1.2" />
<line x1="320.2" y1="539.48" x2="315.2" y2="539.48" stroke="#000" stroke-width="1.2" />
<line x1="38.2" y1="516.92" x2="33.2" y2="516.92" stroke="#000" stroke-width="1.2" />
<line x1="320.2" y1="516.92" x2="315.2" y2="516.92" stroke="#000" stroke-width="1.2" />
<line x1="38.2" y1="494.36" x2="33.2" y2="494.36" stroke="#000" stroke-width="1.2" />
<line x1="320.2" y1="494.36" x2="315.2" y2="494.36" stroke="#000" stroke-width="1.2" />
<line x1="38.2" y1="471.8" x2="33.2" y2="471.8" stroke="#000" stroke-width="1.2" />
<line x1="320.2" y1="471.8" x2="315.2" y2="471.8" stroke="#000" stroke-width="1.2" />
<line x1="38.2" y1="449.24" x2="33.2" y2="449.24" stroke="#000" stroke-width="1.2" />
<line x1="320.2" y1="449.24" x2="315.2" y2="449.24" stroke="#000" stroke-width="1.2" />
<line x1="38.2" y1="426.68" x2="33.2" y2="426.68" stroke="#000" stroke-width="1.2" />
<line x1="320.2" y1="426.68" x2="315.2" y2="426.68" stroke="#000" stroke-width="1.2" />
<line x1="38.2" y1="404.12" x2="33.2" y2="404.12" stroke="#000" stroke-width="1.2" />
<line x1="320.2" y1="404.12" x2="315.2" y2="404.12" stroke="#000" stroke-width="1.2" />
<line x1="38.2" y1="381.56" x2="33.2" y2="381.56" stroke="#000" stroke-width="1.2" />
<line x1="320.2" y1="381.56" x2="315.2" y2="381.56" stroke="#000" stroke-width="1.2" />
<line x1="38.2" y1="573.32" x2="35.5" y2="573.32" stroke="#000" stroke-width="1.2" />
<line x1="320.2" y1="573.32" x2="317.5" y2="573.32" stroke="#000" stroke-width="1.2" />
<line x1="38.2" y1="550.76" x2="35.5" y2="550.76" stroke="#000" stroke-width="1.2" />
<line x1="320.2" y1="550.76" x2="317.5" y2="550.76" stroke="#000" stroke-width="1.2" />
<line x1="38.2" y1="528.2" x2="35.5" y2="528.2" stroke="#000" stroke-width="1.2" />
<line x1="320.2" y1="528.2" x2="317.5" y2="528.2" stroke="#000" stroke-width="1.2" />
<line x1="38.2" y1="505.64" x2="35.5" y2="505.64" stroke="#000" stroke-width="1.2" />
<line x1="320.2" y1="505.64" x2="317.5" y2="505.64" stroke="#000" stroke-width="1.2" />
<line x1="38.2" y1="483.08" x2="35.5" y2="483.08" stroke="#000" stroke-width="1.2" />
<line x1="320.2" y1="483.08" x2="317.5" y2="483.08" stroke="#000" stroke-width="1.2" />
<line x1="38.2" y1="460.52" x2="35.5" y2="460.52" stroke="#000" stroke-width="1.2" />
<line x1="320.2" y1="460.52" x2="317.5" y2="460.52" stroke="#000" stroke-width="1.2" />
<line x1="38.2" y1="437.96" x2="35.5" y2="437.96" stroke="#000" stroke-width="1.2" />
<line x1="320.2" y1="437.96" x2="317.5" y2="437.96" stroke="#000" stroke-width="1.2" />
<line x1="38.2" y1="415.4" x2="35.5" y2="415.4" stroke="#000" stroke-width="1.2" />
<line x1="320.2" y1="415.4" x2="317.5" y2="415.4" stroke="#000" stroke-width="1.2" />
<line x1="38.2" y1="392.84" x2="35.5" y2="392.84" stroke="#000" stroke-width="1.2" />
<line x1="320.2" y1="392.84" x2="317.5" y2="392.84" stroke="#000" stroke-width="1.2" />
<line x1="38.2" y1="370.28" x2="35.5" y2="370.28" stroke="#000" stroke-width="1.2" />
<line x1="320.2" y1="370.28" x2="317.5" y2="370.28" stroke="#000" stroke-width="1.2" />
<clipPath id="cc"><rect x="38.2" y="356.0" width="282.0" height="228.60000000000002"/></clipPath>
<path d="M38.2,562.06 L39.29,561.16 L40.38,560.25 L41.47,559.33 L42.56,558.4 L43.64,557.46 L44.73,556.51 L45.82,555.53 L46.91,554.53 L48,553.51 L49.09,552.45 L50.18,551.36 L51.27,550.23 L52.35,549.08 L53.44,547.89 L54.53,546.67 L55.62,545.42 L56.71,544.16 L57.8,542.87 L58.89,541.57 L59.98,540.25 L61.06,538.92 L62.15,537.58 L63.24,536.23 L64.33,534.88 L65.42,533.53 L66.51,532.18 L67.6,530.81 L68.69,529.44 L69.78,528.05 L70.86,526.65 L71.95,525.22 L73.04,523.77 L74.13,522.29 L75.22,520.78 L76.31,519.23 L77.4,517.64 L78.49,516.02 L79.57,514.34 L80.66,512.63 L81.75,510.88 L82.84,509.1 L83.93,507.3 L85.02,505.47 L86.11,503.64 L87.2,501.79 L88.28,499.94 L89.37,498.09 L90.46,496.25 L91.55,494.43 L92.64,492.62 L93.73,490.84 L94.82,489.08 L95.91,487.36 L97,485.67 L98.08,484.01 L99.17,482.39 L100.26,480.81 L101.35,479.28 L102.44,477.79 L103.53,476.34 L104.62,474.95 L105.71,473.6 L106.79,472.31 L107.88,471.08 L108.97,469.89 L110.06,468.75 L111.15,467.65 L112.24,466.6 L113.33,465.57 L114.42,464.58 L115.51,463.62 L116.59,462.69 L117.68,461.77 L118.77,460.88 L119.86,460 L120.95,459.15 L122.04,458.32 L123.13,457.52 L124.22,456.74 L125.3,455.98 L126.39,455.25 L127.48,454.55 L128.57,453.87 L129.66,453.23 L130.75,452.61 L131.84,452.02 L132.93,451.47 L134.01,450.94 L135.1,450.45 L136.19,449.99 L137.28,449.56 L138.37,449.17 L139.46,448.8 L140.55,448.46 L141.64,448.15 L142.73,447.86 L143.81,447.6 L144.9,447.36 L145.99,447.15 L147.08,446.96 L148.17,446.78 L149.26,446.63 L150.35,446.49 L151.44,446.37 L152.52,446.26 L153.61,446.17 L154.7,446.1 L155.79,446.04 L156.88,445.99 L157.97,445.96 L159.06,445.95 L160.15,445.96 L161.23,445.98 L162.32,446.03 L163.41,446.09 L164.5,446.17 L165.59,446.27 L166.68,446.39 L167.77,446.53 L168.86,446.68 L169.95,446.86 L171.03,447.04 L172.12,447.25 L173.21,447.46 L174.3,447.69 L175.39,447.92 L176.48,448.17 L177.57,448.42 L178.66,448.67 L179.74,448.93 L180.83,449.2 L181.92,449.46 L183.01,449.73 L184.1,450 L185.19,450.27 L186.28,450.55 L187.37,450.83 L188.45,451.12 L189.54,451.41 L190.63,451.71 L191.72,452.01 L192.81,452.32 L193.9,452.63 L194.99,452.95 L196.08,453.27 L197.17,453.61 L198.25,453.95 L199.34,454.29 L200.43,454.64 L201.52,454.99 L202.61,455.34 L203.7,455.69 L204.79,456.03 L205.88,456.37 L206.96,456.71 L208.05,457.04 L209.14,457.35 L210.23,457.66 L211.32,457.95 L212.41,458.23 L213.5,458.5 L214.59,458.76 L215.67,459.01 L216.76,459.25 L217.85,459.49 L218.94,459.72 L220.03,459.95 L221.12,460.18 L222.21,460.4 L223.3,460.63 L224.39,460.86 L225.47,461.09 L226.56,461.33 L227.65,461.57 L228.74,461.82 L229.83,462.08 L230.92,462.35 L232.01,462.63 L233.1,462.92 L234.18,463.22 L235.27,463.52 L236.36,463.83 L237.45,464.15 L238.54,464.48 L239.63,464.8 L240.72,465.14 L241.81,465.47 L242.89,465.81 L243.98,466.15 L245.07,466.49 L246.16,466.83 L247.25,467.17 L248.34,467.51 L249.43,467.85 L250.52,468.18 L251.61,468.51 L252.69,468.84 L253.78,469.17 L254.87,469.49 L255.96,469.8 L257.05,470.12 L258.14,470.43 L259.23,470.73 L260.32,471.04 L261.4,471.33 L262.49,471.63 L263.58,471.92 L264.67,472.2 L265.76,472.48 L266.85,472.76 L267.94,473.03 L269.03,473.3 L270.12,473.56 L271.2,473.81 L272.29,474.07 L273.38,474.31 L274.47,474.56 L275.56,474.79 L276.65,475.02 L277.74,475.25 L278.83,475.47 L279.91,475.69 L281,475.9 L282.09,476.11 L283.18,476.31 L284.27,476.5 L285.36,476.7 L286.45,476.88 L287.54,477.07 L288.62,477.25 L289.71,477.42 L290.8,477.59 L291.89,477.76 L292.98,477.92 L294.07,478.09 L295.16,478.24 L296.25,478.4 L297.34,478.55 L298.42,478.7 L299.51,478.84 L300.6,478.99 L301.69,479.13 L302.78,479.27 L303.87,479.4 L304.96,479.54 L306.05,479.67 L307.13,479.8 L308.22,479.93 L309.31,480.06 L310.4,480.18 L311.49,480.31 L312.58,480.43 L313.67,480.55 L314.76,480.67 L315.84,480.8 L316.93,480.92 L318.02,481.04 L319.11,481.16 L320.2,481.28" fill="none" stroke="#0000d8" stroke-width="2.1" stroke-dasharray="9.3 3.1 2.6 3.1" stroke-linejoin="round" clip-path="url(#cc)"/>
<path d="M38.2,568.4 L39.29,567.41 L40.38,566.41 L41.47,565.4 L42.56,564.36 L43.64,563.3 L44.73,562.21 L45.82,561.08 L46.91,559.9 L48,558.67 L49.09,557.38 L50.18,556.02 L51.27,554.6 L52.35,553.11 L53.44,551.57 L54.53,549.98 L55.62,548.36 L56.71,546.7 L57.8,545.03 L58.89,543.34 L59.98,541.65 L61.06,539.97 L62.15,538.3 L63.24,536.66 L64.33,535.05 L65.42,533.47 L66.51,531.92 L67.6,530.37 L68.69,528.82 L69.78,527.23 L70.86,525.59 L71.95,523.89 L73.04,522.1 L74.13,520.21 L75.22,518.19 L76.31,516.04 L77.4,513.73 L78.49,511.24 L79.57,508.56 L80.66,505.7 L81.75,502.68 L82.84,499.51 L83.93,496.23 L85.02,492.84 L86.11,489.37 L87.2,485.84 L88.28,482.27 L89.37,478.67 L90.46,475.04 L91.55,471.39 L92.64,467.7 L93.73,463.99 L94.82,460.25 L95.91,456.48 L97,452.69 L98.08,448.92 L99.17,445.2 L100.26,441.57 L101.35,438.04 L102.44,434.63 L103.53,431.35 L104.62,428.2 L105.71,425.2 L106.79,422.35 L107.88,419.66 L108.97,417.13 L110.06,414.78 L111.15,412.62 L112.24,410.63 L113.33,408.81 L114.42,407.16 L115.51,405.66 L116.59,404.3 L117.68,403.07 L118.77,401.97 L119.86,400.98 L120.95,400.1 L122.04,399.31 L123.13,398.62 L124.22,398.04 L125.3,397.56 L126.39,397.18 L127.48,396.92 L128.57,396.76 L129.66,396.71 L130.75,396.78 L131.84,396.96 L132.93,397.25 L134.01,397.63 L135.1,398.11 L136.19,398.66 L137.28,399.28 L138.37,399.96 L139.46,400.7 L140.55,401.49 L141.64,402.31 L142.73,403.18 L143.81,404.09 L144.9,405.04 L145.99,406.04 L147.08,407.08 L148.17,408.16 L149.26,409.29 L150.35,410.46 L151.44,411.68 L152.52,412.95 L153.61,414.26 L154.7,415.6 L155.79,416.98 L156.88,418.38 L157.97,419.8 L159.06,421.22 L160.15,422.65 L161.23,424.08 L162.32,425.49 L163.41,426.88 L164.5,428.25 L165.59,429.59 L166.68,430.9 L167.77,432.19 L168.86,433.45 L169.95,434.7 L171.03,435.93 L172.12,437.15 L173.21,438.36 L174.3,439.57 L175.39,440.77 L176.48,441.98 L177.57,443.18 L178.66,444.39 L179.74,445.61 L180.83,446.82 L181.92,448.03 L183.01,449.23 L184.1,450.44 L185.19,451.63 L186.28,452.82 L187.37,454 L188.45,455.18 L189.54,456.34 L190.63,457.49 L191.72,458.62 L192.81,459.74 L193.9,460.84 L194.99,461.93 L196.08,463 L197.17,464.06 L198.25,465.1 L199.34,466.11 L200.43,467.11 L201.52,468.09 L202.61,469.06 L203.7,470 L204.79,470.92 L205.88,471.81 L206.96,472.69 L208.05,473.55 L209.14,474.38 L210.23,475.19 L211.32,475.99 L212.41,476.76 L213.5,477.52 L214.59,478.26 L215.67,478.98 L216.76,479.68 L217.85,480.37 L218.94,481.04 L220.03,481.7 L221.12,482.35 L222.21,482.98 L223.3,483.59 L224.39,484.2 L225.47,484.79 L226.56,485.38 L227.65,485.95 L228.74,486.51 L229.83,487.07 L230.92,487.62 L232.01,488.16 L233.1,488.7 L234.18,489.23 L235.27,489.76 L236.36,490.29 L237.45,490.81 L238.54,491.34 L239.63,491.86 L240.72,492.39 L241.81,492.91 L242.89,493.44 L243.98,493.97 L245.07,494.49 L246.16,495.02 L247.25,495.54 L248.34,496.05 L249.43,496.56 L250.52,497.05 L251.61,497.54 L252.69,498.01 L253.78,498.47 L254.87,498.92 L255.96,499.34 L257.05,499.75 L258.14,500.13 L259.23,500.5 L260.32,500.85 L261.4,501.18 L262.49,501.51 L263.58,501.82 L264.67,502.13 L265.76,502.44 L266.85,502.75 L267.94,503.06 L269.03,503.38 L270.12,503.7 L271.2,504.04 L272.29,504.39 L273.38,504.75 L274.47,505.11 L275.56,505.47 L276.65,505.82 L277.74,506.18 L278.83,506.53 L279.91,506.88 L281,507.22 L282.09,507.55 L283.18,507.88 L284.27,508.2 L285.36,508.52 L286.45,508.84 L287.54,509.15 L288.62,509.46 L289.71,509.76 L290.8,510.06 L291.89,510.35 L292.98,510.65 L294.07,510.93 L295.16,511.22 L296.25,511.5 L297.34,511.78 L298.42,512.05 L299.51,512.32 L300.6,512.59 L301.69,512.86 L302.78,513.12 L303.87,513.39 L304.96,513.65 L306.05,513.91 L307.13,514.16 L308.22,514.42 L309.31,514.67 L310.4,514.92 L311.49,515.17 L312.58,515.42 L313.67,515.67 L314.76,515.92 L315.84,516.16 L316.93,516.41 L318.02,516.66 L319.11,516.9 L320.2,517.15" fill="none" stroke="#00de20" stroke-width="2.1" stroke-dasharray="2.6 6.0" stroke-linejoin="round" clip-path="url(#cc)"/>
<path d="M38.2,574.1 L39.29,573.84 L40.38,573.57 L41.47,573.27 L42.56,572.92 L43.64,572.52 L44.73,572.05 L45.82,571.49 L46.91,570.84 L48,570.06 L49.09,569.17 L50.18,568.16 L51.27,567.05 L52.35,565.86 L53.44,564.59 L54.53,563.27 L55.62,561.89 L56.71,560.47 L57.8,559.03 L58.89,557.58 L59.98,556.13 L61.06,554.68 L62.15,553.22 L63.24,551.73 L64.33,550.18 L65.42,548.55 L66.51,546.82 L67.6,544.97 L68.69,542.99 L69.78,540.85 L70.86,538.52 L71.95,535.99 L73.04,533.25 L74.13,530.32 L75.22,527.21 L76.31,523.94 L77.4,520.51 L78.49,516.96 L79.57,513.28 L80.66,509.51 L81.75,505.64 L82.84,501.71 L83.93,497.72 L85.02,493.68 L86.11,489.61 L87.2,485.53 L88.28,481.43 L89.37,477.34 L90.46,473.27 L91.55,469.22 L92.64,465.21 L93.73,461.24 L94.82,457.3 L95.91,453.32 L97,449.27 L98.08,445.08 L99.17,440.72 L100.26,436.16 L101.35,431.45 L102.44,426.63 L103.53,421.76 L104.62,416.9 L105.71,412.12 L106.79,407.47 L107.88,403 L108.97,398.79 L110.06,394.89 L111.15,391.35 L112.24,388.18 L113.33,385.36 L114.42,382.86 L115.51,380.66 L116.59,378.74 L117.68,377.07 L118.77,375.64 L119.86,374.43 L120.95,373.46 L122.04,372.71 L123.13,372.18 L124.22,371.87 L125.3,371.76 L126.39,371.87 L127.48,372.17 L128.57,372.69 L129.66,373.41 L130.75,374.34 L131.84,375.48 L132.93,376.83 L134.01,378.39 L135.1,380.17 L136.19,382.15 L137.28,384.3 L138.37,386.58 L139.46,388.97 L140.55,391.41 L141.64,393.89 L142.73,396.36 L143.81,398.78 L144.9,401.15 L145.99,403.46 L147.08,405.73 L148.17,407.96 L149.26,410.16 L150.35,412.34 L151.44,414.51 L152.52,416.68 L153.61,418.86 L154.7,421.03 L155.79,423.19 L156.88,425.34 L157.97,427.47 L159.06,429.58 L160.15,431.65 L161.23,433.69 L162.32,435.68 L163.41,437.64 L164.5,439.56 L165.59,441.44 L166.68,443.3 L167.77,445.12 L168.86,446.92 L169.95,448.7 L171.03,450.45 L172.12,452.19 L173.21,453.92 L174.3,455.63 L175.39,457.34 L176.48,459.05 L177.57,460.76 L178.66,462.48 L179.74,464.19 L180.83,465.9 L181.92,467.58 L183.01,469.22 L184.1,470.82 L185.19,472.35 L186.28,473.83 L187.37,475.25 L188.45,476.64 L189.54,478.01 L190.63,479.35 L191.72,480.66 L192.81,481.95 L193.9,483.21 L194.99,484.44 L196.08,485.63 L197.17,486.79 L198.25,487.91 L199.34,488.98 L200.43,490.01 L201.52,491.01 L202.61,491.96 L203.7,492.87 L204.79,493.75 L205.88,494.6 L206.96,495.41 L208.05,496.2 L209.14,496.96 L210.23,497.7 L211.32,498.41 L212.41,499.11 L213.5,499.78 L214.59,500.44 L215.67,501.09 L216.76,501.72 L217.85,502.34 L218.94,502.95 L220.03,503.55 L221.12,504.14 L222.21,504.72 L223.3,505.29 L224.39,505.85 L225.47,506.41 L226.56,506.96 L227.65,507.5 L228.74,508.04 L229.83,508.57 L230.92,509.11 L232.01,509.63 L233.1,510.15 L234.18,510.67 L235.27,511.18 L236.36,511.69 L237.45,512.19 L238.54,512.68 L239.63,513.17 L240.72,513.65 L241.81,514.12 L242.89,514.59 L243.98,515.05 L245.07,515.5 L246.16,515.94 L247.25,516.38 L248.34,516.81 L249.43,517.24 L250.52,517.66 L251.61,518.07 L252.69,518.48 L253.78,518.89 L254.87,519.29 L255.96,519.69 L257.05,520.08 L258.14,520.48 L259.23,520.87 L260.32,521.26 L261.4,521.64 L262.49,522.02 L263.58,522.41 L264.67,522.79 L265.76,523.16 L266.85,523.54 L267.94,523.91 L269.03,524.29 L270.12,524.66 L271.2,525.03 L272.29,525.4 L273.38,525.76 L274.47,526.12 L275.56,526.48 L276.65,526.83 L277.74,527.17 L278.83,527.5 L279.91,527.82 L281,528.13 L282.09,528.44 L283.18,528.74 L284.27,529.03 L285.36,529.32 L286.45,529.59 L287.54,529.86 L288.62,530.13 L289.71,530.38 L290.8,530.63 L291.89,530.88 L292.98,531.12 L294.07,531.35 L295.16,531.58 L296.25,531.8 L297.34,532.02 L298.42,532.23 L299.51,532.44 L300.6,532.65 L301.69,532.85 L302.78,533.05 L303.87,533.24 L304.96,533.43 L306.05,533.62 L307.13,533.8 L308.22,533.98 L309.31,534.16 L310.4,534.34 L311.49,534.52 L312.58,534.69 L313.67,534.86 L314.76,535.03 L315.84,535.2 L316.93,535.37 L318.02,535.54 L319.11,535.7 L320.2,535.87" fill="none" stroke="#f80000" stroke-width="2.1" stroke-dasharray="8 6.2" stroke-linejoin="round" clip-path="url(#cc)"/>
<path d="M38.2,577.1 L39.29,576.44 L40.38,575.78 L41.47,575.13 L42.56,574.51 L43.64,573.92 L44.73,573.36 L45.82,572.85 L46.91,572.39 L48,571.95 L49.09,571.55 L50.18,571.15 L51.27,570.76 L52.35,570.36 L53.44,569.94 L54.53,569.48 L55.62,568.99 L56.71,568.43 L57.8,567.81 L58.89,567.09 L59.98,566.27 L61.06,565.33 L62.15,564.25 L63.24,563.02 L64.33,561.65 L65.42,560.16 L66.51,558.55 L67.6,556.84 L68.69,555.04 L69.78,553.16 L70.86,551.19 L71.95,549.14 L73.04,546.97 L74.13,544.67 L75.22,542.22 L76.31,539.61 L77.4,536.83 L78.49,533.88 L79.57,530.77 L80.66,527.52 L81.75,524.14 L82.84,520.64 L83.93,517.02 L85.02,513.3 L86.11,509.45 L87.2,505.45 L88.28,501.27 L89.37,496.9 L90.46,492.32 L91.55,487.51 L92.64,482.49 L93.73,477.32 L94.82,472.03 L95.91,466.68 L97,461.29 L98.08,455.9 L99.17,450.47 L100.26,444.99 L101.35,439.44 L102.44,433.8 L103.53,428.06 L104.62,422.18 L105.71,416.15 L106.79,410 L107.88,403.86 L108.97,397.85 L110.06,392.1 L111.15,386.71 L112.24,381.74 L113.33,377.24 L114.42,373.21 L115.51,369.69 L116.59,366.71 L117.68,364.25 L118.77,362.3 L119.86,360.86 L120.95,359.91 L122.04,359.43 L123.13,359.41 L124.22,359.82 L125.3,360.62 L126.39,361.79 L127.48,363.27 L128.57,365.05 L129.66,367.09 L130.75,369.34 L131.84,371.8 L132.93,374.46 L134.01,377.29 L135.1,380.28 L136.19,383.42 L137.28,386.69 L138.37,390.09 L139.46,393.57 L140.55,397.14 L141.64,400.76 L142.73,404.41 L143.81,408.08 L144.9,411.75 L145.99,415.42 L147.08,419.09 L148.17,422.75 L149.26,426.41 L150.35,430.06 L151.44,433.7 L152.52,437.31 L153.61,440.86 L154.7,444.32 L155.79,447.66 L156.88,450.86 L157.97,453.89 L159.06,456.75 L160.15,459.45 L161.23,462.03 L162.32,464.5 L163.41,466.89 L164.5,469.2 L165.59,471.47 L166.68,473.69 L167.77,475.88 L168.86,478 L169.95,480.05 L171.03,482.01 L172.12,483.9 L173.21,485.72 L174.3,487.48 L175.39,489.19 L176.48,490.86 L177.57,492.5 L178.66,494.11 L179.74,495.69 L180.83,497.24 L181.92,498.76 L183.01,500.24 L184.1,501.69 L185.19,503.1 L186.28,504.46 L187.37,505.79 L188.45,507.08 L189.54,508.34 L190.63,509.57 L191.72,510.77 L192.81,511.95 L193.9,513.1 L194.99,514.21 L196.08,515.29 L197.17,516.33 L198.25,517.33 L199.34,518.29 L200.43,519.19 L201.52,520.06 L202.61,520.88 L203.7,521.66 L204.79,522.41 L205.88,523.14 L206.96,523.83 L208.05,524.5 L209.14,525.15 L210.23,525.78 L211.32,526.39 L212.41,526.99 L213.5,527.56 L214.59,528.12 L215.67,528.67 L216.76,529.2 L217.85,529.72 L218.94,530.23 L220.03,530.73 L221.12,531.22 L222.21,531.7 L223.3,532.17 L224.39,532.63 L225.47,533.08 L226.56,533.53 L227.65,533.97 L228.74,534.41 L229.83,534.84 L230.92,535.27 L232.01,535.68 L233.1,536.1 L234.18,536.5 L235.27,536.9 L236.36,537.29 L237.45,537.67 L238.54,538.04 L239.63,538.4 L240.72,538.75 L241.81,539.09 L242.89,539.42 L243.98,539.73 L245.07,540.04 L246.16,540.33 L247.25,540.61 L248.34,540.89 L249.43,541.16 L250.52,541.42 L251.61,541.68 L252.69,541.94 L253.78,542.2 L254.87,542.45 L255.96,542.7 L257.05,542.96 L258.14,543.22 L259.23,543.48 L260.32,543.74 L261.4,544.01 L262.49,544.27 L263.58,544.53 L264.67,544.8 L265.76,545.06 L266.85,545.31 L267.94,545.57 L269.03,545.81 L270.12,546.05 L271.2,546.29 L272.29,546.52 L273.38,546.74 L274.47,546.95 L275.56,547.16 L276.65,547.37 L277.74,547.57 L278.83,547.76 L279.91,547.95 L281,548.13 L282.09,548.31 L283.18,548.48 L284.27,548.66 L285.36,548.82 L286.45,548.99 L287.54,549.14 L288.62,549.3 L289.71,549.45 L290.8,549.61 L291.89,549.75 L292.98,549.9 L294.07,550.04 L295.16,550.18 L296.25,550.32 L297.34,550.46 L298.42,550.59 L299.51,550.73 L300.6,550.86 L301.69,550.99 L302.78,551.11 L303.87,551.24 L304.96,551.37 L306.05,551.49 L307.13,551.61 L308.22,551.73 L309.31,551.85 L310.4,551.97 L311.49,552.09 L312.58,552.21 L313.67,552.32 L314.76,552.44 L315.84,552.56 L316.93,552.67 L318.02,552.79 L319.11,552.9 L320.2,553.02" fill="none" stroke="#000" stroke-width="2.2" stroke-linejoin="round" clip-path="url(#cc)"/>
<text x="31.4" y="587" font-family="'Liberation Sans', sans-serif" font-size="9.4" font-weight="bold" text-anchor="end" fill="#000" >0.0</text>
<text x="31.4" y="564.44" font-family="'Liberation Sans', sans-serif" font-size="9.4" font-weight="bold" text-anchor="end" fill="#000" >0.1</text>
<text x="31.4" y="541.88" font-family="'Liberation Sans', sans-serif" font-size="9.4" font-weight="bold" text-anchor="end" fill="#000" >0.2</text>
<text x="31.4" y="519.32" font-family="'Liberation Sans', sans-serif" font-size="9.4" font-weight="bold" text-anchor="end" fill="#000" >0.3</text>
<text x="31.4" y="496.76" font-family="'Liberation Sans', sans-serif" font-size="9.4" font-weight="bold" text-anchor="end" fill="#000" >0.4</text>
<text x="31.4" y="474.2" font-family="'Liberation Sans', sans-serif" font-size="9.4" font-weight="bold" text-anchor="end" fill="#000" >0.5</text>
<text x="31.4" y="451.64" font-family="'Liberation Sans', sans-serif" font-size="9.4" font-weight="bold" text-anchor="end" fill="#000" >0.6</text>
<text x="31.4" y="429.08" font-family="'Liberation Sans', sans-serif" font-size="9.4" font-weight="bold" text-anchor="end" fill="#000" >0.7</text>
<text x="31.4" y="406.52" font-family="'Liberation Sans', sans-serif" font-size="9.4" font-weight="bold" text-anchor="end" fill="#000" >0.8</text>
<text x="31.4" y="383.96" font-family="'Liberation Sans', sans-serif" font-size="9.4" font-weight="bold" text-anchor="end" fill="#000" >0.9</text>
<text x="31.4" y="361.4" font-family="'Liberation Sans', sans-serif" font-size="9.4" font-weight="bold" text-anchor="end" fill="#000" >1.0</text>
<text x="71.58" y="598.8" font-family="'Liberation Sans', sans-serif" font-size="9.4" font-weight="bold" text-anchor="middle" fill="#000" >10</text>
<text x="154.52" y="598.8" font-family="'Liberation Sans', sans-serif" font-size="9.4" font-weight="bold" text-anchor="middle" fill="#000" >15</text>
<text x="237.46" y="598.8" font-family="'Liberation Sans', sans-serif" font-size="9.4" font-weight="bold" text-anchor="middle" fill="#000" >20</text>
<text x="320.4" y="598.8" font-family="'Liberation Sans', sans-serif" font-size="9.4" font-weight="bold" text-anchor="middle" fill="#000" >25</text>
<text x="180" y="618.7" font-family="'Liberation Sans', sans-serif" font-size="11.5" font-weight="bold" text-anchor="middle" fill="#000" >Frequency(GHz)</text>
<text x="10.3" y="479.5" font-family="'Liberation Sans', sans-serif" font-size="11.8" font-weight="bold" text-anchor="middle" fill="#000" transform="rotate(-90 10.3 479.5)">Absorbance</text>
<text x="0.2" y="629.4" font-family="'Liberation Serif', serif" font-size="15.5" font-weight="bold" text-anchor="start" fill="#000" >(c)</text>
<line x1="239" y1="370.6" x2="265.1" y2="370.6" stroke="#000" stroke-width="2.0" />
<line x1="239" y1="383.7" x2="246.9" y2="383.7" stroke="#f80000" stroke-width="2.0" />
<line x1="253.1" y1="383.7" x2="261.1" y2="383.7" stroke="#f80000" stroke-width="2.0" />
<line x1="239" y1="396.9" x2="242.1" y2="396.9" stroke="#00de20" stroke-width="2.0" />
<line x1="247.4" y1="396.9" x2="250.5" y2="396.9" stroke="#00de20" stroke-width="2.0" />
<line x1="255.8" y1="396.9" x2="258.9" y2="396.9" stroke="#00de20" stroke-width="2.0" />
<line x1="239" y1="410.2" x2="248.3" y2="410.2" stroke="#0000d8" stroke-width="2.0" />
<line x1="251.4" y1="410.2" x2="254" y2="410.2" stroke="#0000d8" stroke-width="2.0" />
<line x1="257.1" y1="410.2" x2="265.1" y2="410.2" stroke="#0000d8" stroke-width="2.0" />
<text x="267.3" y="374.4" font-family="'Liberation Sans', sans-serif" font-size="11" font-weight="normal" text-anchor="start" fill="#111" xml:space="preserve">t = 10nm</text>
<text x="267.3" y="388" font-family="'Liberation Sans', sans-serif" font-size="11" font-weight="normal" text-anchor="start" fill="#f80000" xml:space="preserve">t =  6nm</text>
<text x="267.3" y="400.9" font-family="'Liberation Sans', sans-serif" font-size="11" font-weight="normal" text-anchor="start" fill="#00de20" xml:space="preserve">t =  4nm</text>
<text x="267.3" y="414.6" font-family="'Liberation Sans', sans-serif" font-size="11" font-weight="normal" text-anchor="start" fill="#0000d8" xml:space="preserve">t =  2nm</text>
<rect x="392.9" y="369.2" width="270.1" height="219" fill="none" stroke="#000" stroke-width="1.4"/>
<line x1="443.7" y1="588.2" x2="443.7" y2="593.2" stroke="#000" stroke-width="1.2" />
<line x1="443.7" y1="369.2" x2="443.7" y2="374.2" stroke="#000" stroke-width="1.2" />
<line x1="494.5" y1="588.2" x2="494.5" y2="593.2" stroke="#000" stroke-width="1.2" />
<line x1="494.5" y1="369.2" x2="494.5" y2="374.2" stroke="#000" stroke-width="1.2" />
<line x1="545.3" y1="588.2" x2="545.3" y2="593.2" stroke="#000" stroke-width="1.2" />
<line x1="545.3" y1="369.2" x2="545.3" y2="374.2" stroke="#000" stroke-width="1.2" />
<line x1="596.1" y1="588.2" x2="596.1" y2="593.2" stroke="#000" stroke-width="1.2" />
<line x1="596.1" y1="369.2" x2="596.1" y2="374.2" stroke="#000" stroke-width="1.2" />
<line x1="646.9" y1="588.2" x2="646.9" y2="593.2" stroke="#000" stroke-width="1.2" />
<line x1="646.9" y1="369.2" x2="646.9" y2="374.2" stroke="#000" stroke-width="1.2" />
<line x1="418.3" y1="588.2" x2="418.3" y2="590.7" stroke="#000" stroke-width="1.2" />
<line x1="418.3" y1="369.2" x2="418.3" y2="371.7" stroke="#000" stroke-width="1.2" />
<line x1="469.1" y1="588.2" x2="469.1" y2="590.7" stroke="#000" stroke-width="1.2" />
<line x1="469.1" y1="369.2" x2="469.1" y2="371.7" stroke="#000" stroke-width="1.2" />
<line x1="519.9" y1="588.2" x2="519.9" y2="590.7" stroke="#000" stroke-width="1.2" />
<line x1="519.9" y1="369.2" x2="519.9" y2="371.7" stroke="#000" stroke-width="1.2" />
<line x1="570.7" y1="588.2" x2="570.7" y2="590.7" stroke="#000" stroke-width="1.2" />
<line x1="570.7" y1="369.2" x2="570.7" y2="371.7" stroke="#000" stroke-width="1.2" />
<line x1="621.5" y1="588.2" x2="621.5" y2="590.7" stroke="#000" stroke-width="1.2" />
<line x1="621.5" y1="369.2" x2="621.5" y2="371.7" stroke="#000" stroke-width="1.2" />
<line x1="392.9" y1="544.4" x2="387.9" y2="544.4" stroke="#000" stroke-width="1.2" />
<line x1="663" y1="544.4" x2="658" y2="544.4" stroke="#000" stroke-width="1.2" />
<line x1="392.9" y1="500.6" x2="387.9" y2="500.6" stroke="#000" stroke-width="1.2" />
<line x1="663" y1="500.6" x2="658" y2="500.6" stroke="#000" stroke-width="1.2" />
<line x1="392.9" y1="456.8" x2="387.9" y2="456.8" stroke="#000" stroke-width="1.2" />
<line x1="663" y1="456.8" x2="658" y2="456.8" stroke="#000" stroke-width="1.2" />
<line x1="392.9" y1="413" x2="387.9" y2="413" stroke="#000" stroke-width="1.2" />
<line x1="663" y1="413" x2="658" y2="413" stroke="#000" stroke-width="1.2" />
<line x1="392.9" y1="566.3" x2="390.4" y2="566.3" stroke="#000" stroke-width="1.2" />
<line x1="663" y1="566.3" x2="660.5" y2="566.3" stroke="#000" stroke-width="1.2" />
<line x1="392.9" y1="522.5" x2="390.4" y2="522.5" stroke="#000" stroke-width="1.2" />
<line x1="663" y1="522.5" x2="660.5" y2="522.5" stroke="#000" stroke-width="1.2" />
<line x1="392.9" y1="478.7" x2="390.4" y2="478.7" stroke="#000" stroke-width="1.2" />
<line x1="663" y1="478.7" x2="660.5" y2="478.7" stroke="#000" stroke-width="1.2" />
<line x1="392.9" y1="434.9" x2="390.4" y2="434.9" stroke="#000" stroke-width="1.2" />
<line x1="663" y1="434.9" x2="660.5" y2="434.9" stroke="#000" stroke-width="1.2" />
<line x1="392.9" y1="391.1" x2="390.4" y2="391.1" stroke="#000" stroke-width="1.2" />
<line x1="663" y1="391.1" x2="660.5" y2="391.1" stroke="#000" stroke-width="1.2" />
<line x1="392.9" y1="588.2" x2="392.9" y2="593.2" stroke="#000" stroke-width="1.2" />
<clipPath id="cd"><rect x="392.9" y="369.2" width="270.1" height="219.00000000000006"/></clipPath>
<g clip-path="url(#cd)">
<path d="M403.06,538.27 L413.22,442.78 L423.38,393.73 L443.7,370.95 L494.5,418.69 L545.3,479.58 L596.1,527.32 L646.9,563.67" fill="none" stroke="#000" stroke-width="1.4" stroke-linejoin="round" />
<circle cx="403.06" cy="538.27" r="3.1" fill="#000"/>
<circle cx="413.22" cy="442.78" r="3.1" fill="#000"/>
<circle cx="423.38" cy="393.73" r="3.1" fill="#000"/>
<circle cx="443.7" cy="370.95" r="3.1" fill="#000"/>
<circle cx="494.5" cy="418.69" r="3.1" fill="#000"/>
<circle cx="545.3" cy="479.58" r="3.1" fill="#000"/>
<circle cx="596.1" cy="527.32" r="3.1" fill="#000"/>
<circle cx="646.9" cy="563.67" r="3.1" fill="#000"/>
</g>
<text transform="translate(386.1 590.65) scale(1 1.18)" x="0" y="0" font-family="'Liberation Sans', sans-serif" font-size="8" font-weight="bold" text-anchor="end" fill="#000" >0.5</text>
<text transform="translate(386.1 546.85) scale(1 1.18)" x="0" y="0" font-family="'Liberation Sans', sans-serif" font-size="8" font-weight="bold" text-anchor="end" fill="#000" >0.6</text>
<text transform="translate(386.1 503.05) scale(1 1.18)" x="0" y="0" font-family="'Liberation Sans', sans-serif" font-size="8" font-weight="bold" text-anchor="end" fill="#000" >0.7</text>
<text transform="translate(386.1 459.25) scale(1 1.18)" x="0" y="0" font-family="'Liberation Sans', sans-serif" font-size="8" font-weight="bold" text-anchor="end" fill="#000" >0.8</text>
<text transform="translate(386.1 415.45) scale(1 1.18)" x="0" y="0" font-family="'Liberation Sans', sans-serif" font-size="8" font-weight="bold" text-anchor="end" fill="#000" >0.9</text>
<text transform="translate(386.1 371.65) scale(1 1.18)" x="0" y="0" font-family="'Liberation Sans', sans-serif" font-size="8" font-weight="bold" text-anchor="end" fill="#000" >1.0</text>
<text transform="translate(392.9 602.1) scale(1 1.18)" x="0" y="0" font-family="'Liberation Sans', sans-serif" font-size="8" font-weight="bold" text-anchor="middle" fill="#000" >0</text>
<text transform="translate(392.9 363) scale(1 1.18)" x="0" y="0" font-family="'Liberation Sans', sans-serif" font-size="8" font-weight="normal" text-anchor="middle" fill="#000" >0</text>
<text transform="translate(443.7 602.1) scale(1 1.18)" x="0" y="0" font-family="'Liberation Sans', sans-serif" font-size="8" font-weight="bold" text-anchor="middle" fill="#000" >10</text>
<text transform="translate(443.7 363) scale(1 1.18)" x="0" y="0" font-family="'Liberation Sans', sans-serif" font-size="8" font-weight="normal" text-anchor="middle" fill="#000" >10</text>
<text transform="translate(494.5 602.1) scale(1 1.18)" x="0" y="0" font-family="'Liberation Sans', sans-serif" font-size="8" font-weight="bold" text-anchor="middle" fill="#000" >20</text>
<text transform="translate(494.5 363) scale(1 1.18)" x="0" y="0" font-family="'Liberation Sans', sans-serif" font-size="8" font-weight="normal" text-anchor="middle" fill="#000" >20</text>
<text transform="translate(545.3 602.1) scale(1 1.18)" x="0" y="0" font-family="'Liberation Sans', sans-serif" font-size="8" font-weight="bold" text-anchor="middle" fill="#000" >30</text>
<text transform="translate(545.3 363) scale(1 1.18)" x="0" y="0" font-family="'Liberation Sans', sans-serif" font-size="8" font-weight="normal" text-anchor="middle" fill="#000" >30</text>
<text transform="translate(596.1 602.1) scale(1 1.18)" x="0" y="0" font-family="'Liberation Sans', sans-serif" font-size="8" font-weight="bold" text-anchor="middle" fill="#000" >40</text>
<text transform="translate(596.1 363) scale(1 1.18)" x="0" y="0" font-family="'Liberation Sans', sans-serif" font-size="8" font-weight="normal" text-anchor="middle" fill="#000" >40</text>
<text transform="translate(646.9 602.1) scale(1 1.18)" x="0" y="0" font-family="'Liberation Sans', sans-serif" font-size="8" font-weight="bold" text-anchor="middle" fill="#000" >50</text>
<text transform="translate(646.9 363) scale(1 1.18)" x="0" y="0" font-family="'Liberation Sans', sans-serif" font-size="8" font-weight="normal" text-anchor="middle" fill="#000" >50</text>
<text x="444.8" y="616.8" font-family="'Liberation Sans', sans-serif" font-size="12" font-weight="normal" text-anchor="start" fill="#000" textLength="150.6" lengthAdjust="spacingAndGlyphs">Thickness of the cut-wire nm</text>
<text transform="translate(368 486) rotate(-90) scale(1.12 1)" x="0" y="0" font-family="'Liberation Sans', sans-serif" font-size="10.2" font-weight="bold" text-anchor="middle" fill="#000" >Absorbance peak</text>
<text x="358.7" y="626.5" font-family="'Liberation Serif', serif" font-size="15.5" font-weight="bold" text-anchor="start" fill="#000" >(d)</text>
</svg>
</body></html>
